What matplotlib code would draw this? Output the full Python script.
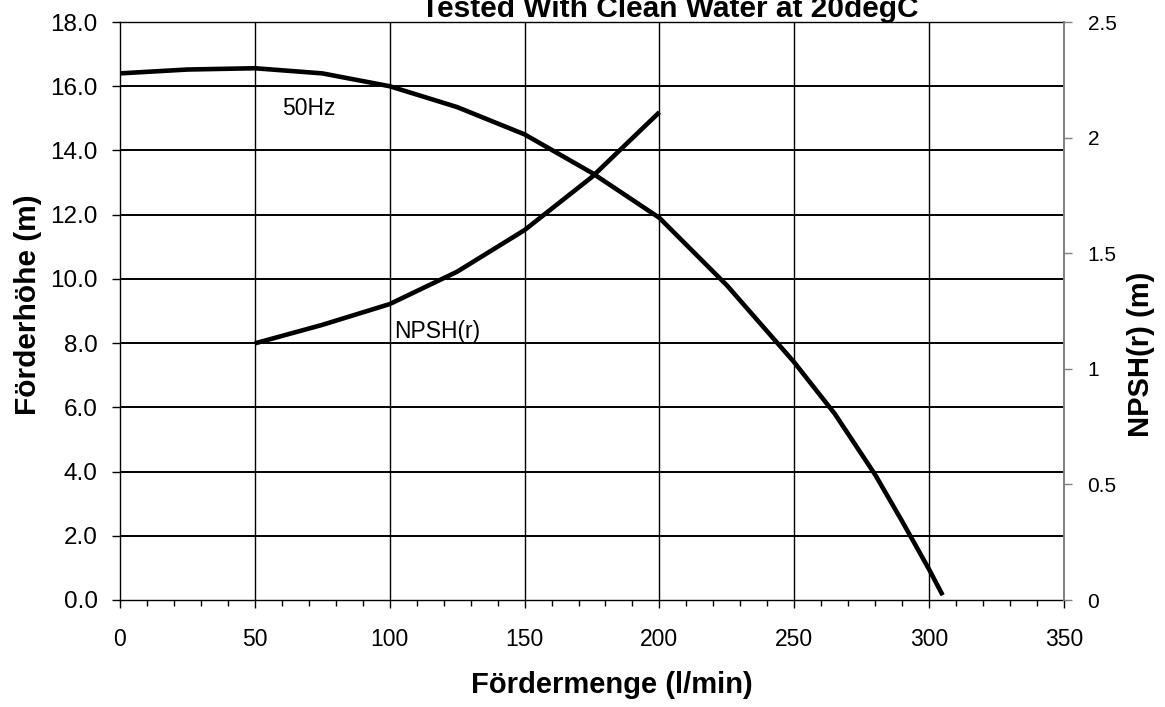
import matplotlib
matplotlib.use("Agg")
import matplotlib.pyplot as plt
from matplotlib.ticker import MultipleLocator, FormatStrFormatter, FuncFormatter

# Data
flow_head = [0, 25, 50, 75, 100, 125, 150, 175, 200, 225, 250, 265, 280, 290, 300, 305]
head_50hz = [16.4, 16.52, 16.56, 16.4, 16.0, 15.35, 14.5, 13.3, 11.9, 9.8, 7.4, 5.8, 3.9, 2.45, 0.95, 0.15]

flow_npsh = [50, 75, 100, 125, 150, 175, 200]
npsh_r = [1.11, 1.19, 1.28, 1.42, 1.60, 1.83, 2.11]

title_text = "Tested With Clean Water at 20degC"
x_label = "Fördermenge (l/min)"
y_label = "Förderhöhe (m)"
y2_label = "NPSH(r) (m)"

W, H = 1165, 707
plt.rcParams['font.family'] = ['Liberation Sans', 'DejaVu Sans']

fig = plt.figure(figsize=(W / 100, H / 100), dpi=100)
ax = fig.add_axes([120 / W, 1 - 600 / H, (1064 - 120) / W, (600 - 22) / H])
ax2 = ax.twinx()

# grid
for yv in range(2, 19, 2):
    ax.axhline(yv, color='black', lw=1.4, zorder=1)
for xv in range(50, 351, 50):
    ax.axvline(xv, color='black', lw=1.0, zorder=1)

ax.plot(flow_head, head_50hz, color='black', lw=3.3, solid_capstyle='butt',
        solid_joinstyle='round', zorder=3)
ax2.plot(flow_npsh, npsh_r, color='black', lw=3.3, solid_capstyle='butt',
         solid_joinstyle='round', zorder=3)

ax.set_xlim(0, 350)
ax.set_ylim(0, 18)
ax2.set_ylim(0, 2.5)

ax.xaxis.set_major_locator(MultipleLocator(50))
ax.xaxis.set_minor_locator(MultipleLocator(10))
ax.yaxis.set_major_locator(MultipleLocator(2))
ax.yaxis.set_major_formatter(FormatStrFormatter('%.1f'))
ax2.yaxis.set_major_locator(MultipleLocator(0.5))
ax2.yaxis.set_major_formatter(FuncFormatter(lambda v, p: f"{v:g}"))

ax.tick_params(axis='x', which='major', direction='out', length=6, width=1.0,
               labelsize=16.5, pad=14)
ax.tick_params(axis='x', which='minor', direction='out', length=4, width=1.0)
ax.tick_params(axis='y', direction='out', length=6, width=1.0, labelsize=17.5, pad=10)
ax2.tick_params(axis='y', direction='out', length=6, width=1.0, color='#808080',
                labelsize=15, pad=11)

for s in ['left', 'bottom', 'top']:
    ax.spines[s].set_linewidth(1.0)
ax.spines['right'].set_visible(False)
for s in ['left', 'bottom', 'top']:
    ax2.spines[s].set_visible(False)
ax2.spines['right'].set_color('#808080')
ax2.spines['right'].set_linewidth(1.4)

ax.text(60, 15.1, "50Hz", fontsize=16.5, ha='left', va='baseline', zorder=4)
ax.text(101.5, 8.15, "NPSH(r)", fontsize=16.5, ha='left', va='baseline', zorder=4)

fig.text(670 / W, 1 - 17 / H, title_text, fontsize=21.5, fontweight='bold',
         ha='center', va='baseline')
fig.text(612 / W, 1 - 693 / H, x_label, fontsize=21, fontweight='bold',
         ha='center', va='baseline')
fig.text(28 / W, 1 - 305 / H, y_label, fontsize=21.5, fontweight='bold',
         ha='center', va='center', rotation=90)
fig.text(1141 / W, 1 - 354 / H, y2_label, fontsize=21, fontweight='bold',
         ha='center', va='center', rotation=90)

fig.savefig("out.png", dpi=100)
